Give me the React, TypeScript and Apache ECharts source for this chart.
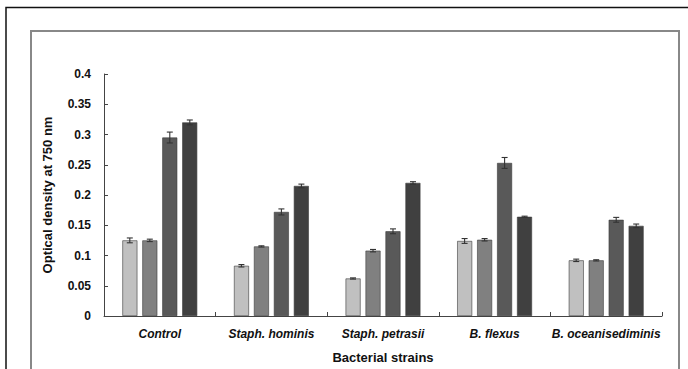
import React, { useEffect, useRef } from "react";
import * as echarts from "echarts";

const categories = ["Control", "Staph. hominis", "Staph. petrasii", "B. flexus", "B. oceanisediminis"];
const series1 = [0.125, 0.083, 0.062, 0.124, 0.092];
const series2 = [0.125, 0.115, 0.108, 0.126, 0.092];
const series3 = [0.295, 0.172, 0.14, 0.253, 0.159];
const series4 = [0.32, 0.215, 0.22, 0.164, 0.149];
const err1 = [0.004, 0.002, 0.001, 0.004, 0.002];
const err2 = [0.002, 0.001, 0.002, 0.002, 0.001];
const err3 = [0.009, 0.005, 0.004, 0.009, 0.004];
const err4 = [0.004, 0.003, 0.002, 0.001, 0.003];
const colors = ["#c0c0c0", "#808080", "#595959", "#404040"];

const FONT = "Liberation Sans";
const BAR_W = 15;
const BAR_GAP = 5;

export default function App() {
  const ref = useRef<HTMLDivElement>(null);
  useEffect(() => {
    if (!ref.current) return;
    const chart = echarts.init(ref.current, undefined, { renderer: "svg" });
    const values = [series1, series2, series3, series4];
    const errs = [err1, err2, err3, err4];
    const barSeries = values.map((v, i) => ({
      type: "bar",
      data: v,
      barWidth: BAR_W,
      barGap: "33%",
      itemStyle: { color: colors[i], borderColor: "#3a3a3a", borderWidth: 0.6 },
      z: 2,
    }));
    const errSeries = values.map((v, i) => ({
      type: "custom",
      data: v.map((val, j) => [j, val, errs[i][j]]),
      z: 5,
      silent: true,
      renderItem: (params: any, api: any) => {
        const x = api.value(0);
        const y = api.value(1);
        const e = api.value(2);
        const top = api.coord([x, y + e]);
        const bot = api.coord([x, y - e]);
        const cx = top[0] + (i - 1.5) * (BAR_W + BAR_GAP);
        const hw = 3;
        const st = { stroke: "#333", lineWidth: 1.1 };
        return {
          type: "group",
          children: [
            { type: "line", shape: { x1: cx, y1: top[1], x2: cx, y2: bot[1] }, style: st },
            { type: "line", shape: { x1: cx - hw, y1: top[1], x2: cx + hw, y2: top[1] }, style: st },
            { type: "line", shape: { x1: cx - hw, y1: bot[1], x2: cx + hw, y2: bot[1] }, style: st },
          ],
        };
      },
    }));
    chart.setOption({
      animation: false,
      backgroundColor: "#ffffff",
      grid: { left: 104, right: 26, top: 74, bottom: 47, containLabel: false },
      graphic: [
        { type: "rect", shape: { x: 6, y: 7.5, width: 700, height: 400 }, style: { fill: "none", stroke: "#111", lineWidth: 1.5 }, z: 10 },
        { type: "rect", shape: { x: 31, y: 31, width: 648, height: 400 }, style: { fill: "none", stroke: "#888", lineWidth: 2 }, z: 10 },
      ],
      xAxis: {
        type: "category",
        data: categories,
        name: "Bacterial strains",
        nameLocation: "middle",
        nameGap: 35,
        nameTextStyle: { fontFamily: FONT, fontWeight: "bold", fontSize: 13, color: "#111" },
        axisLine: { lineStyle: { color: "#444", width: 1 } },
        axisTick: { show: true, inside: true, length: 4, lineStyle: { color: "#444" } },
        axisLabel: { fontFamily: FONT, fontWeight: "bold", fontStyle: "italic", fontSize: 12, color: "#111", margin: 12, interval: 0 },
      },
      yAxis: {
        type: "value",
        min: 0,
        max: 0.4,
        interval: 0.05,
        name: "Optical density at 750 nm",
        nameLocation: "middle",
        nameGap: 50,
        nameTextStyle: { fontFamily: FONT, fontWeight: "bold", fontSize: 13, color: "#111" },
        axisLine: { show: true, lineStyle: { color: "#444", width: 1 } },
        axisTick: { show: true, inside: true, length: 4, lineStyle: { color: "#444" } },
        splitLine: { show: false },
        axisLabel: { fontFamily: FONT, fontWeight: "bold", fontSize: 12, color: "#111", margin: 13 },
      },
      series: [...barSeries, ...errSeries],
    });
    return () => chart.dispose();
  }, []);
  return <div ref={ref} style={{ position: "fixed", left: 0, top: 0, width: 688, height: 369 }} />;
}
